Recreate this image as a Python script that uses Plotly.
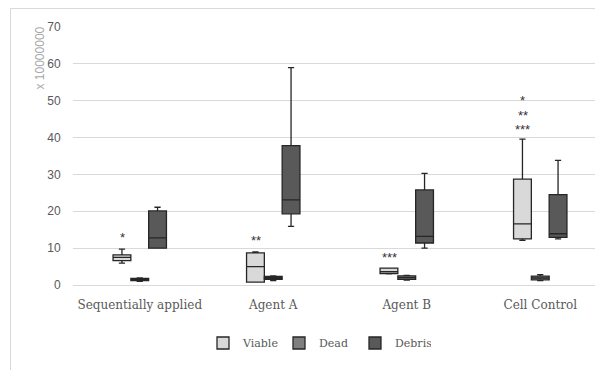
import plotly.graph_objects as go

categories = ["Sequentially applied", "Agent A", "Agent B", "Cell Control"]

# box statistics (units of 10^7)
viable_low = [5.96, 0.8, 3.0, 12.1]
viable_q1 = [6.6, 0.8, 3.1, 12.5]
viable_med = [7.5, 5.0, 3.6, 16.6]
viable_q3 = [8.2, 8.7, 4.6, 28.7]
viable_high = [9.76, 9.0, 4.6, 39.6]

dead_low = [1.0, 1.2, 1.3, 1.2]
dead_q1 = [1.2, 1.5, 1.5, 1.4]
dead_med = [1.5, 1.9, 2.0, 1.9]
dead_q3 = [1.8, 2.3, 2.5, 2.4]
dead_high = [1.9, 2.5, 2.6, 2.8]

debris_low = [10.0, 15.9, 10.0, 12.5]
debris_q1 = [10.0, 19.3, 11.4, 12.9]
debris_med = [12.8, 23.1, 13.2, 13.9]
debris_q3 = [20.1, 37.8, 25.8, 24.5]
debris_high = [21.1, 59.0, 30.3, 33.8]

# significance marks above the Viable boxes
sig_category = ["Sequentially applied", "Agent A", "Agent B", "Cell Control", "Cell Control", "Cell Control"]
sig_value = [13.4, 12.7, 8.0, 50.5, 46.6, 42.8]
sig_text = ["*", "**", "***", "*", "**", "***"]

yticks = [0, 10, 20, 30, 40, 50, 60, 70]

serif = "DejaVu Serif"
series = [
    ("Viable", viable_low, viable_q1, viable_med, viable_q3, viable_high, "#d9d9d9"),
    ("Dead", dead_low, dead_q1, dead_med, dead_q3, dead_high, "#7f7f7f"),
    ("Debris", debris_low, debris_q1, debris_med, debris_q3, debris_high, "#595959"),
]

# figure geometry (page adds an 8px body offset)
L, T, B = 65, 19, 93
PW, PH = 603 - L, 370 - T - B

fig = go.Figure()
for name, lo, q1, med, q3, hi, col in series:
    fig.add_trace(go.Box(
        name=name, x=categories, lowerfence=lo, q1=q1, median=med, q3=q3, upperfence=hi,
        fillcolor=col, line=dict(color="#262626", width=1.3), whiskerwidth=0.35,
        boxpoints=False, hoverinfo="skip",
    ))

box_w = 17.7
for c, v, t in zip(sig_category, sig_value, sig_text):
    fig.add_annotation(x=c, y=v, xref="x", yref="y", text=t, showarrow=False,
                       xshift=-box_w, yshift=-2,
                       font=dict(family="Liberation Sans", size=13, color="#333333"))

fig.add_annotation(xref="paper", yref="paper", x=(31 - L) / PW, y=(T + PH - 17) / PH,
                   text="x 10000000", textangle=-90, showarrow=False,
                   xanchor="center", yanchor="top",
                   font=dict(family="Liberation Sans", size=12, color="#a6a6a6"))

# light chart-area border (left and top edges visible)
fig.add_shape(type="line", xref="paper", yref="paper",
              x0=(2.5 - L) / PW, x1=(2.5 - L) / PW, y0=-1.0, y1=(T + PH - 0.5) / PH,
              line=dict(color="#d9d9d9", width=1), layer="above")
fig.add_shape(type="line", xref="paper", yref="paper",
              x0=(2.5 - L) / PW, x1=1.2, y0=(T + PH - 0.5) / PH, y1=(T + PH - 0.5) / PH,
              line=dict(color="#d9d9d9", width=1), layer="above")

fig.update_layout(
    width=603, height=370,
    margin=dict(l=L, r=0, t=T, b=B, autoexpand=False),
    paper_bgcolor="white", plot_bgcolor="white",
    boxmode="group", boxgap=0.6, boxgroupgap=0,
    showlegend=True,
    legend=dict(orientation="h", xref="container", yref="container",
                x=309 / 603, y=1 - 335 / 370, xanchor="center", yanchor="middle",
                font=dict(family=serif, size=11, color="#595959"), itemwidth=30,
                entrywidth=31, traceorder="normal"),
    xaxis=dict(range=[-0.5, 3.53], showgrid=False, showline=False, automargin=False,
               ticks="outside", ticklen=9, tickcolor="rgba(0,0,0,0)",
               tickfont=dict(family=serif, size=12, color="#595959")),
    yaxis=dict(range=[0, 70], tickvals=yticks, showgrid=True, gridcolor="#d9d9d9", gridwidth=1,
               zeroline=True, zerolinecolor="#d9d9d9", zerolinewidth=1, showline=False,
               automargin=False, ticks="outside", ticklen=9, tickcolor="rgba(0,0,0,0)",
               tickfont=dict(family="Liberation Sans", size=12, color="#595959")),
)

fig.write_html("out.html")
